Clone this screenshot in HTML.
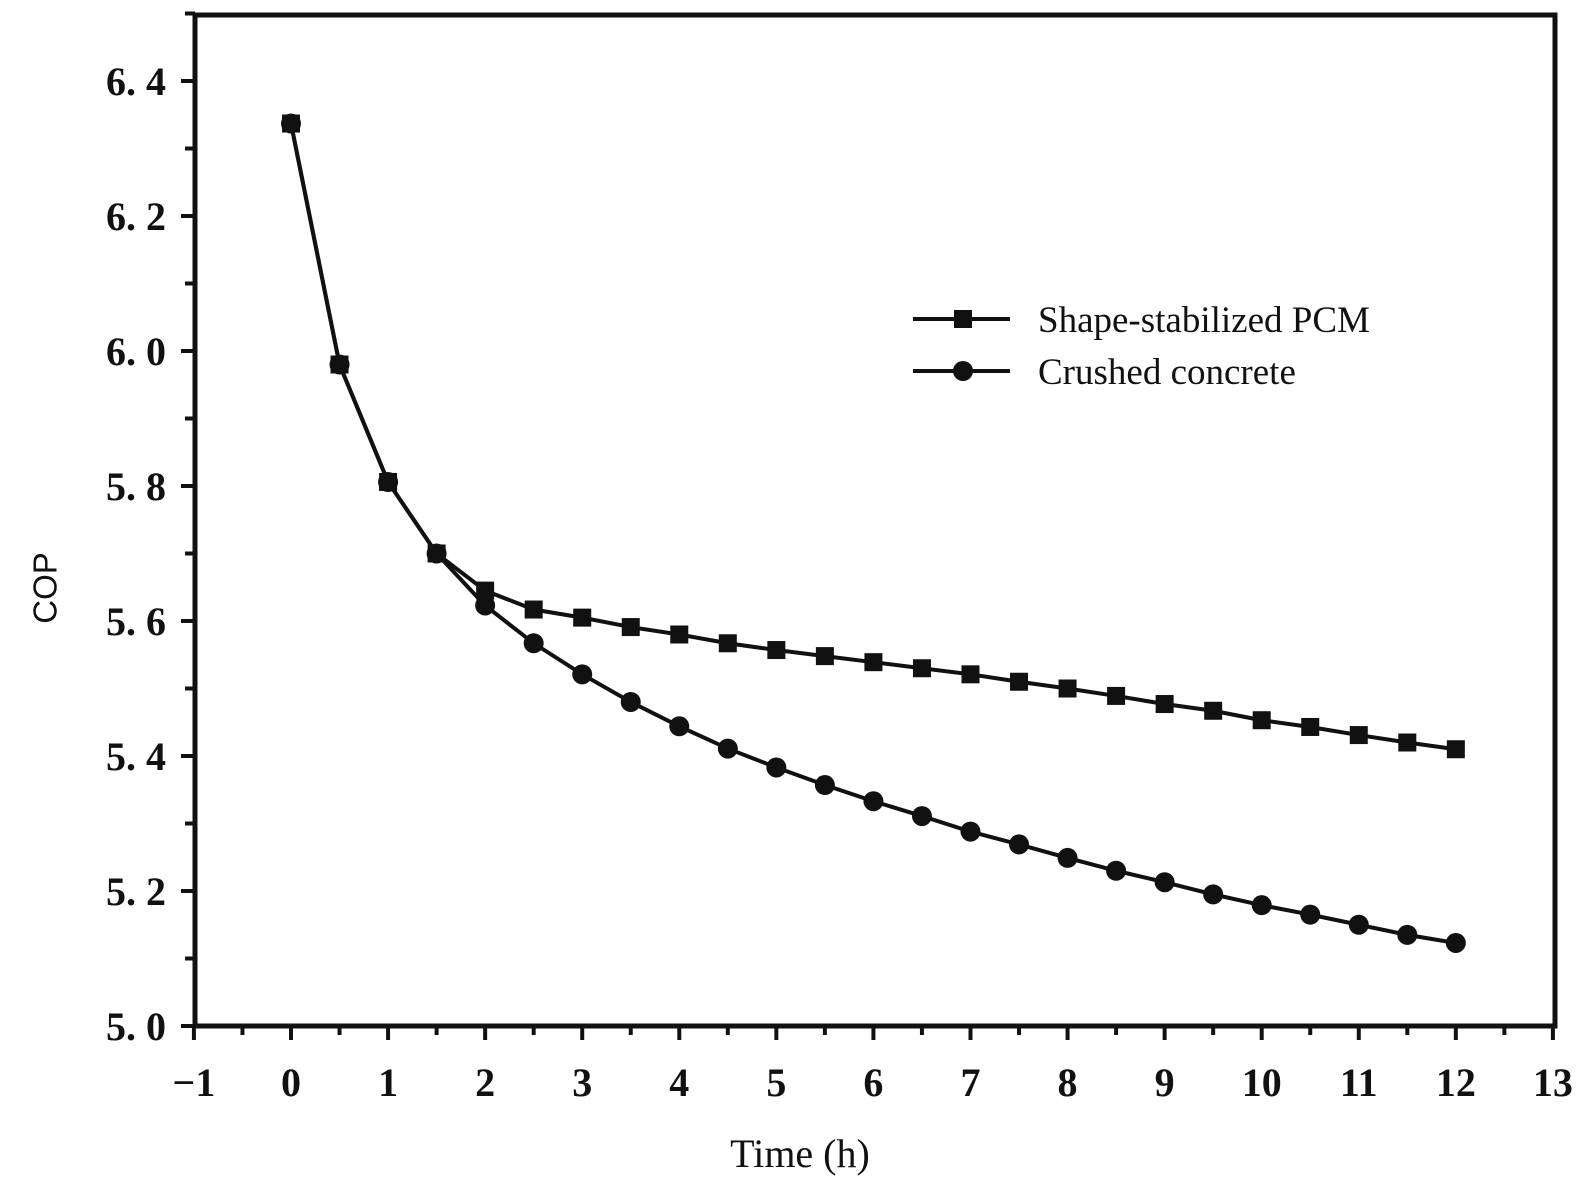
<!DOCTYPE html>
<html><head><meta charset="utf-8"><style>
body{margin:0;background:#fff;}
svg text{fill:#111;}
.tk{font-family:"Liberation Serif",serif;font-weight:bold;font-size:40px;}
</style></head><body>
<svg width="1585" height="1198" xmlns="http://www.w3.org/2000/svg">
<g id="axes"></g><g id="series"></g>
<text x="45" y="588" transform="rotate(-90 45 588)" text-anchor="middle" dominant-baseline="central" font-family="Liberation Sans,sans-serif" font-size="33">COP</text>
<text x="800" y="1167" text-anchor="middle" font-family="Liberation Serif,serif" font-size="40">Time (h)</text>
<g>
<line x1="913" y1="319" x2="1010" y2="319" stroke="#111" stroke-width="4"/>
<rect x="954" y="310" width="18" height="18" fill="#111"/>
<text x="1038" y="332" font-family="Liberation Serif,serif" font-size="37">Shape-stabilized PCM</text>
<line x1="913" y1="371" x2="1010" y2="371" stroke="#111" stroke-width="4"/>
<circle cx="963" cy="371" r="10" fill="#111"/>
<text x="1038" y="384" font-family="Liberation Serif,serif" font-size="37">Crushed concrete</text>
</g>
</svg>
<script>
const times=[0,0.5,1,1.5,2,2.5,3,3.5,4,4.5,5,5.5,6,6.5,7,7.5,8,8.5,9,9.5,10,10.5,11,11.5,12];
const pcmValues=[6.337,5.98,5.806,5.70,5.645,5.617,5.605,5.591,5.58,5.567,5.557,5.548,5.539,5.53,5.521,5.51,5.5,5.489,5.477,5.467,5.453,5.443,5.431,5.42,5.41];
const concreteValues=[6.337,5.98,5.806,5.70,5.623,5.567,5.521,5.48,5.444,5.411,5.383,5.357,5.333,5.311,5.288,5.269,5.249,5.23,5.213,5.195,5.179,5.165,5.15,5.135,5.123];
const xTicks=[-1,0,1,2,3,4,5,6,7,8,9,10,11,12,13];
const yTicks=["5. 0","5. 2","5. 4","5. 6","5. 8","6. 0","6. 2","6. 4"];
const NS="http://www.w3.org/2000/svg";
const X=v=>291+(v)*97.07;
const Y=v=>1026-(v-5)*675;
function mk(tag,attrs,parent){const e=document.createElementNS(NS,tag);for(const k in attrs)e.setAttribute(k,attrs[k]);parent.appendChild(e);return e;}
const ax=document.getElementById('axes');
const frame=mk('rect',{x:195,y:15,width:1360,height:1011,fill:'none',stroke:'#111','stroke-width':5},ax);


xTicks.forEach((t,i)=>{
  const l=mk('line',{x1:X(t),y1:1026,x2:X(t),y2:1040,stroke:'#111','stroke-width':4},ax);
  
  
  if(i<xTicks.length-1){const m=mk('line',{x1:X(t+0.5),y1:1026,x2:X(t+0.5),y2:1035,stroke:'#111','stroke-width':4},ax);
  
  }
  const tx=mk('text',{x:X(t),y:1096,'text-anchor':'middle',class:'tk'},ax);
  tx.textContent=t<0?'\u2212'+(-t):String(t);
  
  
});
yTicks.forEach((lab,i)=>{
  const v=5+i*0.2;
  const l=mk('line',{x1:181,y1:Y(v),x2:195,y2:Y(v),stroke:'#111','stroke-width':4},ax);
  
  
  const m=mk('line',{x1:185,y1:Y(v+0.1),x2:195,y2:Y(v+0.1),stroke:'#111','stroke-width':4},ax);
  
  
  const tx=mk('text',{x:166,y:Y(v)+14,'text-anchor':'end',class:'tk'},ax);
  tx.textContent=lab;
  
  
});
const sg=document.getElementById('series');
function draw(vals,name,square){
  const p=mk('polyline',{points:times.map((t,i)=>X(t)+','+Y(vals[i])).join(' '),fill:'none',stroke:'#111','stroke-width':4},sg);
  
  
  times.forEach((t,i)=>{
    let e;
    if(square) e=mk('rect',{x:X(t)-9,y:Y(vals[i])-9,width:18,height:18,fill:'#111'},sg);
    else e=mk('circle',{cx:X(t),cy:Y(vals[i]),r:10,fill:'#111'},sg);
    
    
  });
}
draw(pcmValues,'pcm',true);
draw(concreteValues,'concrete',false);
</script>
</body></html>
